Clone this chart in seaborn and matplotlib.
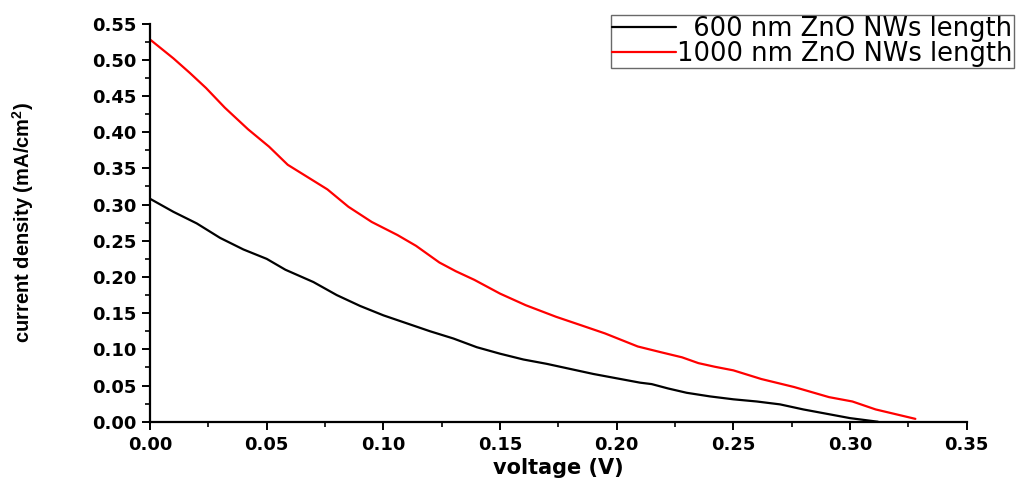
import numpy as np
import pandas as pd
import matplotlib
matplotlib.use("Agg")
import matplotlib.pyplot as plt
from matplotlib.ticker import MultipleLocator, FormatStrFormatter
import seaborn as sns

# J-V curves of the two ZnO nanowire lengths
v_600 = [0.000, 0.010, 0.020, 0.030, 0.040, 0.050, 0.058, 0.070, 0.080, 0.090,
         0.100, 0.110, 0.120, 0.130, 0.140, 0.150, 0.160, 0.170, 0.180, 0.190,
         0.200, 0.210, 0.215, 0.222, 0.230, 0.240, 0.250, 0.260, 0.270, 0.280,
         0.290, 0.300, 0.312]
j_600 = [0.308, 0.290, 0.274, 0.254, 0.238, 0.225, 0.210, 0.193, 0.175, 0.160,
         0.147, 0.136, 0.125, 0.115, 0.103, 0.094, 0.086, 0.080, 0.073, 0.066,
         0.060, 0.054, 0.052, 0.046, 0.040, 0.035, 0.031, 0.028, 0.024, 0.017,
         0.011, 0.005, 0.000]

v_1000 = [0.000, 0.010, 0.017, 0.024, 0.032, 0.042, 0.051, 0.059, 0.067, 0.076,
          0.085, 0.095, 0.106, 0.114, 0.124, 0.131, 0.139, 0.150, 0.161, 0.174,
          0.185, 0.195, 0.202, 0.209, 0.219, 0.228, 0.235, 0.242, 0.250, 0.262,
          0.276, 0.291, 0.301, 0.311, 0.328]
j_1000 = [0.528, 0.502, 0.482, 0.461, 0.434, 0.404, 0.380, 0.355, 0.339, 0.321,
          0.297, 0.276, 0.258, 0.243, 0.220, 0.208, 0.196, 0.177, 0.161, 0.145,
          0.133, 0.122, 0.113, 0.104, 0.096, 0.089, 0.081, 0.076, 0.071, 0.059,
          0.048, 0.034, 0.028, 0.017, 0.004]

series_labels = ["\u2007600 nm ZnO NWs length", "1000 nm ZnO NWs length"]
series_colors = ["#000000", "#ff0000"]

df = pd.concat([
    pd.DataFrame({"voltage": v_600, "current": j_600, "sample": series_labels[0]}),
    pd.DataFrame({"voltage": v_1000, "current": j_1000, "sample": series_labels[1]}),
], ignore_index=True)

sns.set_style("ticks")
plt.rcParams["font.family"] = ["DejaVu Sans"]
plt.rcParams["text.color"] = "black"
plt.rcParams["axes.labelcolor"] = "black"

fig = plt.figure(figsize=(10.35, 4.82), dpi=100)
ax = fig.add_axes([0.145, 0.125, 0.789, 0.826])

sns.lineplot(data=df, x="voltage", y="current", hue="sample",
             palette=dict(zip(series_labels, series_colors)),
             sort=False, linewidth=1.6, ax=ax, legend=False)

ax.set_xlim(0, 0.35)
ax.set_ylim(0, 0.55)
ax.xaxis.set_major_locator(MultipleLocator(0.05))
ax.xaxis.set_minor_locator(MultipleLocator(0.025))
ax.yaxis.set_major_locator(MultipleLocator(0.05))
ax.yaxis.set_minor_locator(MultipleLocator(0.025))
ax.xaxis.set_major_formatter(FormatStrFormatter("%.2f"))
ax.yaxis.set_major_formatter(FormatStrFormatter("%.2f"))

for side in ["top", "right"]:
    ax.spines[side].set_visible(False)
for side in ["left", "bottom"]:
    ax.spines[side].set_linewidth(1.6)
    ax.spines[side].set_color("black")

ax.tick_params(which="major", direction="out", length=6, width=1.4,
               colors="black", labelsize=13, pad=4)
ax.tick_params(which="minor", direction="out", length=3.5, width=1.2,
               colors="black")
for lab in ax.get_xticklabels() + ax.get_yticklabels():
    lab.set_fontweight("bold")

ax.set_xlabel("voltage (V)", fontsize=15, fontweight="bold", labelpad=3)
ax.set_ylabel("current density (mA/cm$^\\mathregular{2}$)", fontsize=14.5,
              fontweight="bold", family=["Liberation Sans", "DejaVu Sans"],
              labelpad=40)

handles = [plt.Line2D([], [], color=c, linewidth=1.6) for c in series_colors]
leg = fig.legend(handles, series_labels, loc="upper left",
                 bbox_to_anchor=(0.590, 0.969), bbox_transform=fig.transFigure,
                 borderaxespad=0, fontsize=18.5, frameon=True, fancybox=False,
                 handlelength=2.5, handletextpad=0.05, labelspacing=-0.05,
                 borderpad=0.05)
leg.get_frame().set_edgecolor("#444444")
leg.get_frame().set_linewidth(1.0)
for t in leg.get_texts():
    t.set_color("black")

fig.savefig("out.png", dpi=100)
